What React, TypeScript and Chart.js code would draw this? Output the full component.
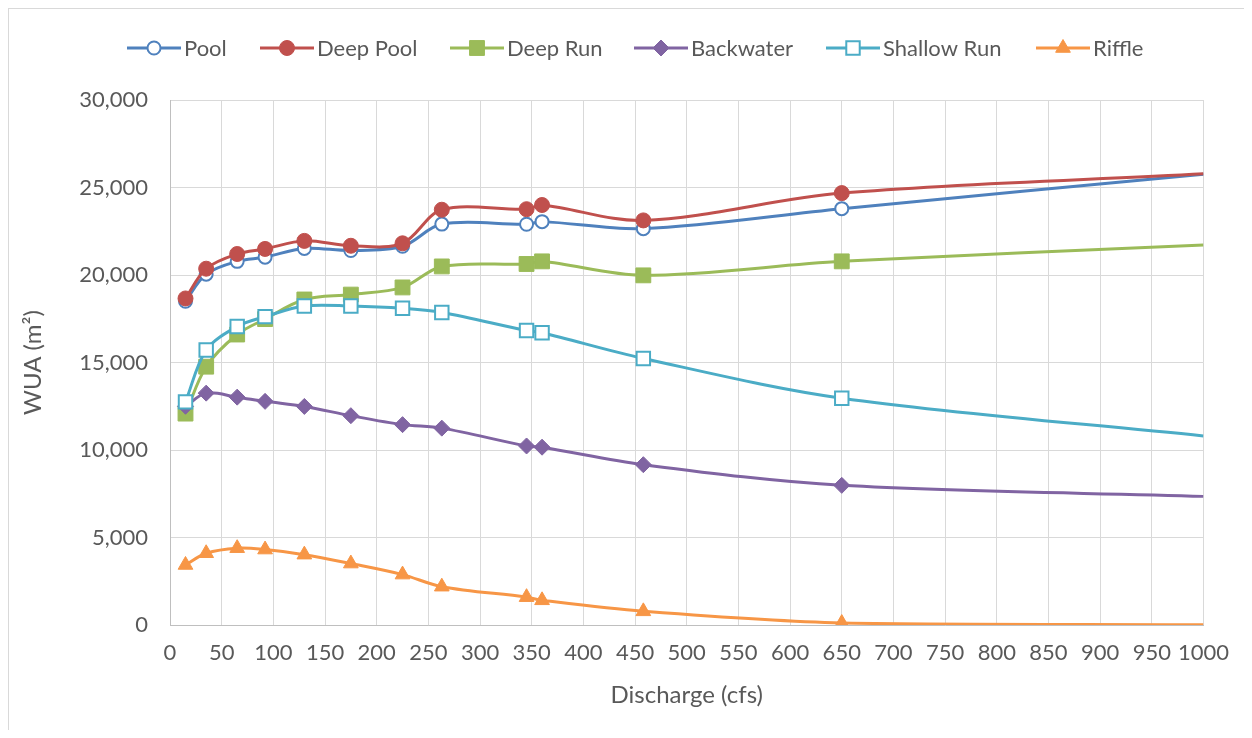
import React, { useEffect, useRef } from 'react';
import { Chart, registerables } from 'chart.js';

Chart.register(...registerables);

// ---- data ----
const discharge = [15, 35, 65, 92, 130, 175, 225, 263, 345, 360, 458, 650, 1000];
const poolWUA = [18500, 20050, 20780, 21020, 21520, 21400, 21640, 22910, 22900, 23050, 22650, 23790, 25760];
const deepPoolWUA = [18660, 20360, 21200, 21490, 21950, 21670, 21810, 23730, 23760, 24000, 23120, 24680, 25780];
const deepRunWUA = [12080, 14760, 16600, 17480, 18600, 18880, 19290, 20490, 20630, 20780, 19980, 20780, 21720];
const backwaterWUA = [12500, 13250, 13020, 12780, 12490, 11960, 11450, 11250, 10230, 10160, 9160, 7980, 7350];
const shallowRunWUA = [12750, 15710, 17060, 17620, 18230, 18230, 18100, 17860, 16830, 16700, 15230, 12960, 10800];
const riffleWUA = [3430, 4100, 4390, 4310, 4020, 3510, 2880, 2190, 1590, 1410, 780, 110, 10];

const seriesNames = ['Pool', 'Deep Pool', 'Deep Run', 'Backwater', 'Shallow Run', 'Riffle'];
const seriesValues = [poolWUA, deepPoolWUA, deepRunWUA, backwaterWUA, shallowRunWUA, riffleWUA];

const xTitle = 'Discharge (cfs)';
const yTitle = 'WUA (m\u00B2)';
const xMin = 0, xMax = 1000, xStep = 50;
const yMin = 0, yMax = 30000, yStep = 5000;

// ---- styles ----
const FONT = 'Lato, "Open Sans", "DejaVu Sans", sans-serif';
const TEXT = '#595959';
type MarkerStyle = { color: string; shape: string; radius: number; hollow: boolean; border: number };
const styles: MarkerStyle[] = [
  { color: '#4F81BD', shape: 'circle', radius: 6.5, hollow: true, border: 2 },
  { color: '#C0504D', shape: 'circle', radius: 7.5, hollow: false, border: 1 },
  { color: '#9BBB59', shape: 'rect', radius: 10.5, hollow: false, border: 1 },
  { color: '#8064A2', shape: 'rectRot', radius: 8, hollow: false, border: 1 },
  { color: '#4BACC6', shape: 'rect', radius: 9.5, hollow: true, border: 2 },
  { color: '#F79646', shape: 'triangle', radius: 8.5, hollow: false, border: 1 },
];
const legendStarts = [118, 251, 441, 625, 817, 1027];
const legendY = 39;

function drawMarker(ctx: CanvasRenderingContext2D, st: MarkerStyle, x: number, y: number) {
  const r = st.radius;
  ctx.beginPath();
  if (st.shape === 'circle') {
    ctx.arc(x, y, r, 0, Math.PI * 2);
  } else if (st.shape === 'rect') {
    const s = Math.SQRT1_2 * r;
    ctx.rect(x - s, y - s, 2 * s, 2 * s);
  } else if (st.shape === 'rectRot') {
    ctx.moveTo(x, y - r);
    ctx.lineTo(x + r, y);
    ctx.lineTo(x, y + r);
    ctx.lineTo(x - r, y);
    ctx.closePath();
  } else {
    ctx.moveTo(x, y - r);
    ctx.lineTo(x + r * Math.sin(Math.PI / 3), y + r * 0.5);
    ctx.lineTo(x - r * Math.sin(Math.PI / 3), y + r * 0.5);
    ctx.closePath();
  }
  ctx.fillStyle = st.hollow ? '#ffffff' : st.color;
  ctx.fill();
  ctx.lineWidth = st.border;
  ctx.strokeStyle = st.color;
  ctx.stroke();
}

const legendPlugin = {
  id: 'excelLegend',
  afterDraw(chart: any) {
    const ctx: CanvasRenderingContext2D = chart.ctx;
    ctx.save();
    seriesNames.forEach((name, i) => {
      const st = styles[i];
      const x0 = legendStarts[i];
      ctx.beginPath();
      ctx.strokeStyle = st.color;
      ctx.lineWidth = 3;
      ctx.moveTo(x0, legendY);
      ctx.lineTo(x0 + 54, legendY);
      ctx.stroke();
      drawMarker(ctx, st, x0 + 27, legendY);
      ctx.fillStyle = TEXT;
      ctx.font = `22px ${FONT}`;
      ctx.textAlign = 'left';
      ctx.textBaseline = 'middle';
      ctx.fillText(name, x0 + 57, legendY + 1);
    });
    ctx.restore();
  },
};

export default function App() {
  const canvasRef = useRef<HTMLCanvasElement | null>(null);

  useEffect(() => {
    if (!canvasRef.current) return;
    const last = discharge.length - 1;
    const datasets = seriesNames.map((name, i) => {
      const st = styles[i];
      return {
        label: name,
        data: discharge.map((x, j) => ({ x, y: seriesValues[i][j] })),
        borderColor: st.color,
        backgroundColor: st.color,
        borderWidth: 3,
        tension: 0.33,
        fill: false,
        order: -i,
        pointStyle: st.shape,
        pointRadius: (c: any) => (c.dataIndex === last ? 0 : st.radius),
        pointHoverRadius: (c: any) => (c.dataIndex === last ? 0 : st.radius),
        pointBackgroundColor: st.hollow ? '#ffffff' : st.color,
        pointBorderColor: st.color,
        pointBorderWidth: st.border,
      };
    });

    const chart = new Chart(canvasRef.current, {
      type: 'line',
      data: { datasets },
      plugins: [legendPlugin],
      options: {
        animation: false,
        responsive: true,
        maintainAspectRatio: false,
        layout: { padding: { top: 91, right: 40, bottom: 0, left: 0 } },
        plugins: { legend: { display: false }, tooltip: { enabled: false } },
        scales: {
          x: {
            type: 'linear',
            min: xMin,
            max: xMax,
            afterFit: (s: any) => { s.height = 105; },
            ticks: {
              stepSize: xStep,
              autoSkip: false,
              maxRotation: 0,
              padding: 15,
              color: TEXT,
              font: { family: FONT, size: 22 },
              callback: (v: any) => String(v),
            },
            grid: { color: '#d9d9d9', lineWidth: 1, drawTicks: false },
            border: { color: '#bfbfbf', width: 1 },
            title: {
              display: true,
              text: xTitle,
              color: TEXT,
              font: { family: FONT, size: 24 },
              padding: { top: 4, bottom: 20 },
            },
          },
          y: {
            type: 'linear',
            min: yMin,
            max: yMax,
            afterFit: (s: any) => { s.width = 161; },
            ticks: {
              stepSize: yStep,
              padding: 22,
              color: TEXT,
              font: { family: FONT, size: 22 },
              callback: (v: any) => Number(v).toLocaleString('en-US'),
            },
            grid: { color: '#d9d9d9', lineWidth: 1, drawTicks: false },
            border: { color: '#bfbfbf', width: 1 },
            title: {
              display: true,
              text: yTitle,
              color: TEXT,
              font: { family: FONT, size: 24 },
              padding: { top: 10, bottom: 4 },
            },
          },
        },
      },
    });
    return () => chart.destroy();
  }, []);

  return (
    <div
      style={{
        width: 1236,
        height: 722,
        boxSizing: 'border-box',
        borderTop: '1px solid #d9d9d9',
        borderLeft: '1px solid #d9d9d9',
        background: '#ffffff',
      }}
    >
      <div style={{ position: 'relative', width: 1235, height: 721 }}>
        <canvas ref={canvasRef} />
      </div>
    </div>
  );
}
